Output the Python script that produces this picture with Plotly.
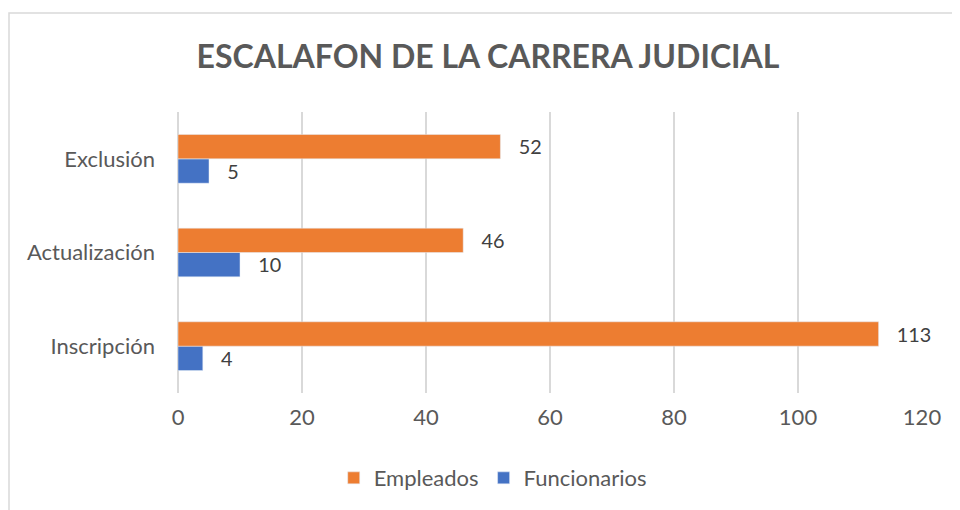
import plotly.graph_objects as go

categories = ["Inscripción", "Actualización", "Exclusión"]
empleados = [113, 46, 52]
funcionarios = [4, 10, 5]
x_ticks = [0, 20, 40, 60, 80, 100, 120]

FONT = "Lato"
GRAY = "#595959"
FS = 22

fig = go.Figure()
fig.add_trace(go.Bar(
    name="Funcionarios", y=categories, x=funcionarios, orientation="h",
    marker=dict(color="#4472C4"), text=funcionarios,
    texttemplate="   %{text}",
    textposition="outside", textfont=dict(size=FS, color="#404040", family=FONT),
    cliponaxis=False, legendrank=2,
))
fig.add_trace(go.Bar(
    name="Empleados", y=categories, x=empleados, orientation="h",
    marker=dict(color="#ED7D31"), text=empleados,
    texttemplate="   %{text}",
    textposition="outside", textfont=dict(size=FS, color="#404040", family=FONT),
    cliponaxis=False, legendrank=1,
))

fig.update_layout(
    width=960, height=510,
    margin=dict(l=170, r=46, t=104, b=125, autoexpand=False),
    paper_bgcolor="white", plot_bgcolor="white",
    barmode="group", bargap=0.48, bargroupgap=0,
    title=dict(text="<b>ESCALAFON DE LA CARRERA JUDICIAL</b>",
               x=0.5, xanchor="center", y=0.904, yanchor="middle",
               font=dict(family=FONT, size=32, color=GRAY)),
    font=dict(family=FONT, size=FS, color=GRAY),
    xaxis=dict(range=[0, 120], tickvals=x_ticks, showgrid=True,
               gridcolor="#d9d9d9", gridwidth=1.5, zeroline=True,
               zerolinecolor="#d9d9d9", zerolinewidth=1.5, showline=False,
               ticks="", ticklabelstandoff=9, automargin=False,
               tickfont=dict(size=FS, color=GRAY, family=FONT)),
    yaxis=dict(showgrid=False, ticks="", showline=False, ticklabelstandoff=22,
               automargin=False,
               tickfont=dict(size=FS, color=GRAY, family=FONT)),
    legend=dict(orientation="h", x=0.423, xanchor="center", y=-0.228, yanchor="top",
                font=dict(size=FS, color=GRAY, family=FONT), itemwidth=30),
    showlegend=True,
)

fig.add_shape(type="rect", xref="paper", yref="paper",
              x0=-169/744, x1=1.2, y0=-0.5, y1=(385-5)/281,
              line=dict(color="#d9d9d9", width=1.5), fillcolor="rgba(0,0,0,0)",
              layer="below")

fig.write_html("out.html")
